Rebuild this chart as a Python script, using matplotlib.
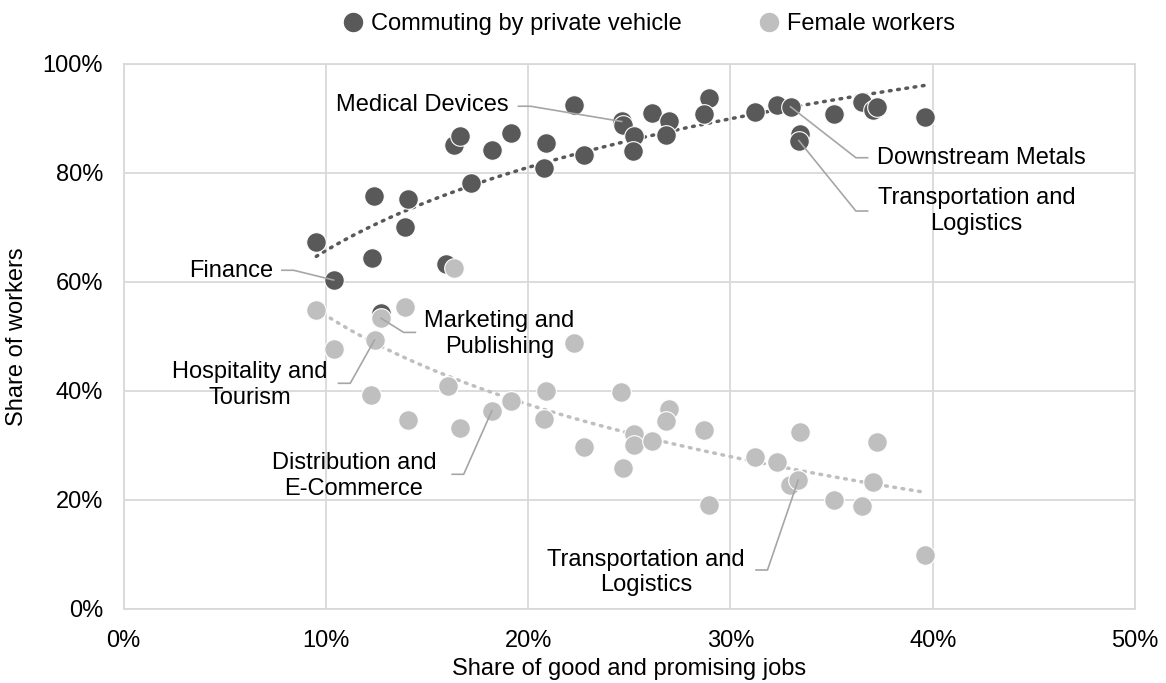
import matplotlib.pyplot as plt
import numpy as np
from matplotlib.lines import Line2D
from matplotlib.ticker import PercentFormatter

plt.rcParams['font.family'] = ['Liberation Sans', 'DejaVu Sans']

# share of good and promising jobs (%) / share of workers (%)
car_x = [9.52, 10.38, 12.26, 12.39, 12.72, 13.93, 14.04, 15.94, 16.32, 16.65, 17.19, 18.2,
         19.14, 20.8, 20.9, 22.28, 22.77, 24.62, 24.7, 25.23, 25.2, 26.14, 26.96, 26.83,
         28.93, 28.71, 31.2, 32.29, 32.97, 33.42, 33.38, 35.11, 36.49, 37.03, 37.24, 39.62]
car_y = [67.3, 60.3, 64.4, 75.7, 54.2, 70.1, 75.2, 63.2, 85.1, 86.8, 78.2, 84.2,
         87.2, 80.8, 85.4, 92.5, 83.3, 89.4, 88.7, 86.7, 84.0, 91.0, 89.5, 86.9,
         93.8, 90.8, 91.1, 92.5, 92.1, 87.1, 85.9, 90.8, 92.9, 91.5, 92.1, 90.2]

fem_x = [9.52, 10.38, 12.72, 12.4, 12.24, 13.93, 14.04, 16.02, 16.32, 16.65, 18.2, 19.14,
         20.9, 20.8, 22.28, 22.77, 24.6, 24.68, 26.96, 26.83, 25.23, 25.23, 26.14, 28.71,
         28.93, 31.2, 32.29, 33.43, 32.92, 33.35, 35.11, 36.49, 37.03, 37.24, 39.62]
fem_y = [54.8, 47.7, 53.3, 49.3, 39.2, 55.4, 34.6, 40.9, 62.6, 33.2, 36.3, 38.1,
         40.0, 34.8, 48.7, 29.6, 39.7, 25.9, 36.6, 34.4, 32.1, 30.0, 30.8, 32.7,
         19.0, 27.9, 27.0, 32.5, 22.7, 23.6, 19.9, 18.9, 23.3, 30.6, 9.9]

# labelled points: (series, index, text)
labels = [('car', 1, 'Finance'),
          ('car', 17, 'Medical Devices'),
          ('car', 28, 'Downstream Metals'),
          ('car', 30, 'Transportation and\nLogistics'),
          ('fem', 2, 'Marketing and\nPublishing'),
          ('fem', 3, 'Hospitality and\nTourism'),
          ('fem', 10, 'Distribution and\nE-Commerce'),
          ('fem', 29, 'Transportation and\nLogistics')]
# placement: text xy, ha, elbow x (near pt), elbow x (near text), elbow y
label_pos = [(7.38, 61.9, 'right', 8.4, 7.82, 62.1),
             (19.03, 92.4, 'right', 20.11, 19.52, 92.2),
             (37.24, 82.7, 'left', 36.2, 36.78, 82.75),
             (42.17, 73.0, 'center', 36.2, 36.78, 72.97),
             (18.58, 50.4, 'center', 13.84, 14.42, 50.7),
             (6.25, 41.05, 'center', 11.2, 10.62, 41.36),
             (11.38, 24.35, 'center', 16.81, 16.24, 24.66),
             (25.83, 6.6, 'center', 31.83, 31.26, 7.1)]

dark = '#595959'
light = '#bfbfbf'
fs = 17

fig = plt.figure(figsize=(11.66, 6.83), dpi=100)
ax = fig.add_axes([0.1061, 0.1088, 0.8673, 0.7979])

# log trendlines fitted to the data
for xs, ys, c in [(car_x, car_y, dark), (fem_x, fem_y, light)]:
    xs = np.array(xs)
    b, a = np.polyfit(np.log(xs), ys, 1)
    tx = np.linspace(xs.min(), xs.max(), 200)
    ax.plot(tx, a + b * np.log(tx), color=c, lw=2.5, ls=(0, (0.5, 1.9)),
            dash_capstyle='round', zorder=2)

ax.scatter(car_x, car_y, s=200, color=dark, edgecolor='white', linewidth=0.8, zorder=3)
ax.scatter(fem_x, fem_y, s=200, color=light, edgecolor='white', linewidth=0.8, zorder=4)

for (ser, i, txt), (tx, ty, ha, ex1, ex2, ey) in zip(labels, label_pos):
    px = car_x[i] if ser == 'car' else fem_x[i]
    py = car_y[i] if ser == 'car' else fem_y[i]
    ax.plot([px, ex1, ex2], [py, ey, ey], color='#a6a6a6', lw=1.2, zorder=5)
    ax.text(tx, ty, txt, ha=ha, va='center', multialignment='center',
            fontsize=fs, linespacing=1.2, zorder=6)

ax.set_xlim(0, 50)
ax.set_ylim(0, 100)
ax.set_xticks(np.arange(0, 51, 10))
ax.set_yticks(np.arange(0, 101, 20))
ax.xaxis.set_major_formatter(PercentFormatter(100, decimals=0))
ax.yaxis.set_major_formatter(PercentFormatter(100, decimals=0))
ax.grid(True, color='#d9d9d9', lw=1.3)
ax.set_axisbelow(True)
for sp in ax.spines.values():
    sp.set_color('#d9d9d9')
    sp.set_linewidth(1.3)
ax.tick_params(length=0, labelsize=fs, pad=15)
ax.set_xlabel('Share of good and promising jobs', fontsize=fs, labelpad=5)
ax.set_ylabel('Share of workers', fontsize=fs, labelpad=10)

handles = [Line2D([], [], ls='', marker='o', ms=15, color=dark, mec='white'),
           Line2D([], [], ls='', marker='o', ms=15, color=light, mec='white')]
fig.legend(handles, ['Commuting by private vehicle', 'Female workers'],
           loc='center', bbox_to_anchor=(0.557, 0.965), ncol=2, frameon=False,
           fontsize=fs, handlelength=0.8, handletextpad=0.35, columnspacing=3.3)

fig.savefig('out.png', dpi=100)
